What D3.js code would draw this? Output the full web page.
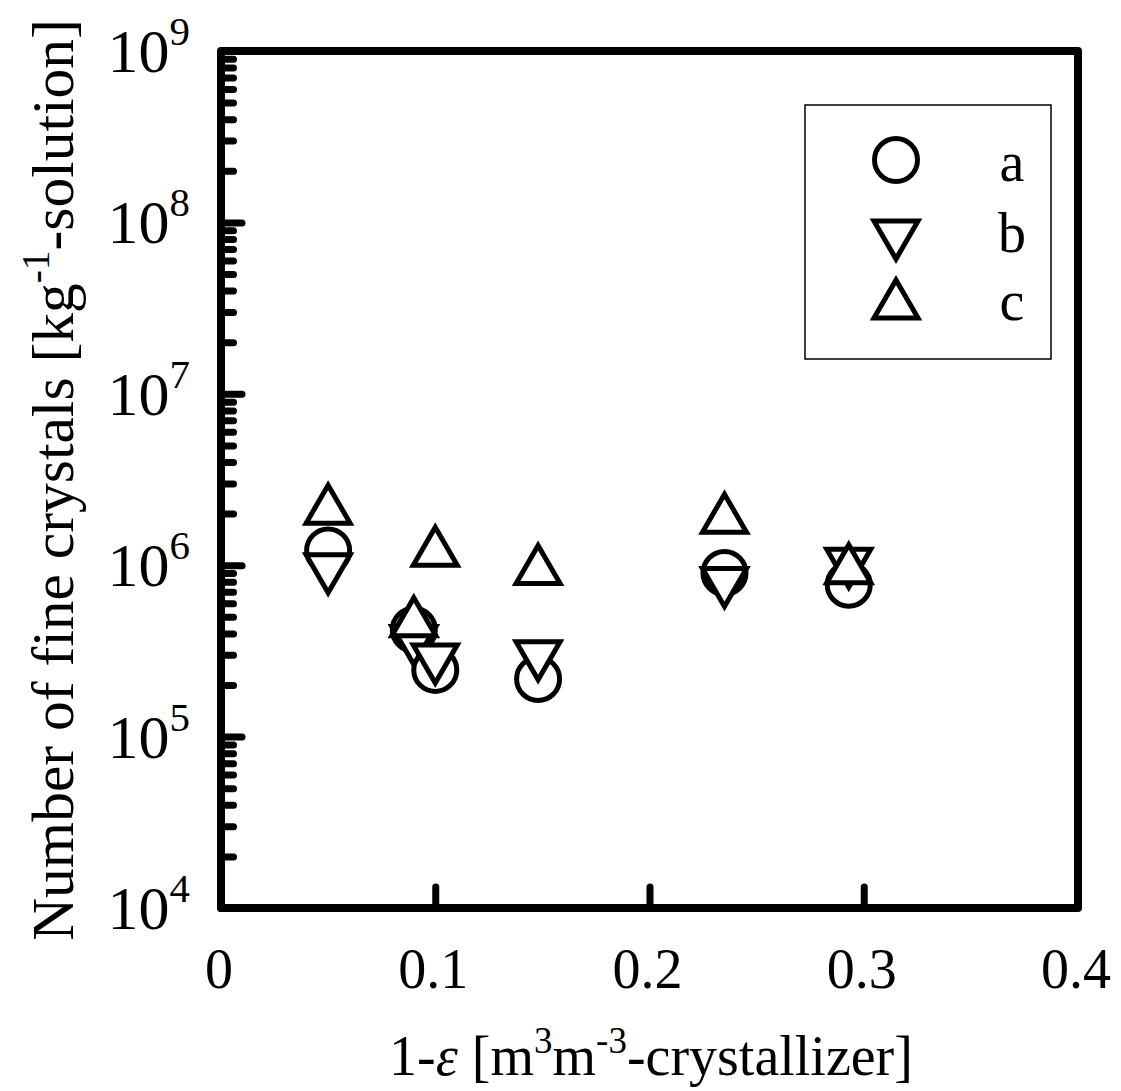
<!DOCTYPE html>
<html>
<head>
<meta charset="utf-8">
<script src="https://cdn.jsdelivr.net/npm/d3@7"></script>
<style>
  body { margin: 0; background: #fff; }
  svg { display: block; }
  text { font-family: "Liberation Serif", "Times New Roman", serif; fill: #000; }
</style>
</head>
<body>
<svg id="chart" width="1121" height="1091"></svg>
<script>
// Volume fraction of crystals (1-ε) for each run
const xValues = [0.05, 0.09, 0.1, 0.148, 0.235, 0.293];
// Number of fine crystals per kg of solution, one array per condition
const seriesA = [1.22e6, 4.2e5, 2.45e5, 2.17e5, 9.0e5, 7.7e5];
const seriesB = [8.9e5, 3.4e5, 2.65e5, 2.77e5, 7.4e5, 9.6e5];
const seriesC = [2.27e6, 5.0e5, 1.29e6, 1.01e6, 2.01e6, 1.02e6];
const seriesNames = ["a", "b", "c"];
const seriesShapes = ["circle", "down", "up"];
// Axis ticks
const xTickValues = [0, 0.1, 0.2, 0.3, 0.4];
const xTickLabels = ["0", "0.1", "0.2", "0.3", "0.4"];
const yExponents = [4, 5, 6, 7, 8, 9];

const svg = d3.select("#chart");
const plot = { left: 221, right: 1078, top: 51, bottom: 908 };
const FONT = 56;
const YTICK_FONT = 62;
const YTITLE_FONT = 59.5;

const x = d3.scaleLinear().domain([0, 0.4]).range([plot.left, plot.right]);
const y = d3.scaleLog().domain([1e4, 1e9]).range([plot.bottom, plot.top]);

// ---- ticks (drawn inside the frame) ----
const majorY = yExponents.map(e => Math.pow(10, e));
const minorY = y.ticks().filter(v => !majorY.some(m => Math.abs(m - v) / m < 1e-9));

const yMajorAxis = d3.axisLeft(y).tickValues(majorY).tickSize(-21).tickFormat("");
const yMinorAxis = d3.axisLeft(y).tickValues(minorY).tickSize(-12.5).tickFormat("");
const xAxis = d3.axisBottom(x).tickValues([0.1, 0.2, 0.3]).tickSize(-21).tickFormat("");

function styleAxis(g) {
  g.select(".domain").remove();
  g.selectAll(".tick line")
    .attr("stroke", "#000").attr("stroke-width", 7).attr("stroke-linecap", "round");
}
svg.append("g").attr("transform", `translate(${plot.left},0)`).call(yMinorAxis).call(styleAxis);
svg.append("g").attr("transform", `translate(${plot.left},0)`).call(yMajorAxis).call(styleAxis);
svg.append("g").attr("transform", `translate(0,${plot.bottom})`).call(xAxis).call(styleAxis);

// ---- frame ----
svg.append("rect")
  .attr("x", plot.left).attr("y", plot.top)
  .attr("width", plot.right - plot.left).attr("height", plot.bottom - plot.top)
  .attr("fill", "none").attr("stroke", "#000").attr("stroke-width", 8)
  .attr("stroke-linejoin", "round");

// ---- tick labels ----
const yLab = svg.append("g").selectAll("text").data(majorY).join("text")
  .attr("x", 190).attr("y", d => y(d) + 21)
  .attr("text-anchor", "end").attr("font-size", YTICK_FONT);
yLab.append("tspan").text("10");
yLab.append("tspan").attr("font-size", YTICK_FONT * 0.66).attr("dy", -27)
  .text(d => Math.round(Math.log10(d)));

svg.append("g").selectAll("text").data(xTickValues).join("text")
  .attr("x", d => x(d) - 2).attr("y", 988)
  .attr("text-anchor", "middle").attr("font-size", FONT)
  .text((d, i) => xTickLabels[i]);

// ---- axis titles ----
const yt = svg.append("text")
  .attr("transform", "translate(73,480) rotate(-90)")
  .attr("text-anchor", "middle").attr("font-size", YTITLE_FONT);
yt.append("tspan").text("Number of fine crystals [kg");
yt.append("tspan").attr("font-size", YTITLE_FONT * 0.66).attr("dy", -24).text("-1");
yt.append("tspan").attr("dy", 24).text("-solution]");

const xt = svg.append("text")
  .attr("x", 651).attr("y", 1075)
  .attr("text-anchor", "middle").attr("font-size", FONT);
xt.append("tspan").text("1-");
xt.append("tspan").attr("font-style", "italic").text("ε");
xt.append("tspan").text(" [m");
xt.append("tspan").attr("font-size", FONT * 0.66).attr("dy", -22).text("3");
xt.append("tspan").attr("dy", 22).text("m");
xt.append("tspan").attr("font-size", FONT * 0.66).attr("dy", -22).text("-3");
xt.append("tspan").attr("dy", 22).text("-crystallizer]");

// ---- markers ----
const HW = 22, HH = 19, R = 21.5;
function markerPath(shape) {
  if (shape === "down") return `M${-HW},${-HH}L${HW},${-HH}L0,${HH}Z`;
  if (shape === "up") return `M0,${-HH}L${HW},${HH}L${-HW},${HH}Z`;
  return null;
}
function drawMarker(g, shape, cx, cy) {
  if (shape === "circle") {
    g.append("circle").attr("cx", cx).attr("cy", cy).attr("r", R)
      .attr("fill", "#fff").attr("stroke", "#000").attr("stroke-width", 5);
  } else {
    g.append("path").attr("d", markerPath(shape))
      .attr("transform", `translate(${cx},${cy})`)
      .attr("fill", "#fff").attr("stroke", "#000").attr("stroke-width", 5)
      .attr("stroke-linejoin", "miter");
  }
}

const allSeries = [seriesA, seriesB, seriesC];
allSeries.forEach((vals, si) => {
  const g = svg.append("g").attr("class", "series-" + seriesNames[si]);
  vals.forEach((v, i) => drawMarker(g, seriesShapes[si], x(xValues[i]), y(v)));
});

// ---- legend ----
const legend = svg.append("g");
legend.append("rect")
  .attr("x", 805).attr("y", 105).attr("width", 246).attr("height", 254)
  .attr("fill", "#fff").attr("stroke", "#000").attr("stroke-width", 1.5);
const legMarkerY = [160, 240, 299];
const legTextY = [181, 252, 320];
seriesNames.forEach((n, i) => {
  drawMarker(legend, seriesShapes[i], 896, legMarkerY[i]);
  legend.append("text").attr("x", 1012).attr("y", legTextY[i])
    .attr("text-anchor", "middle").attr("font-size", FONT).text(n);
});
</script>
</body>
</html>
